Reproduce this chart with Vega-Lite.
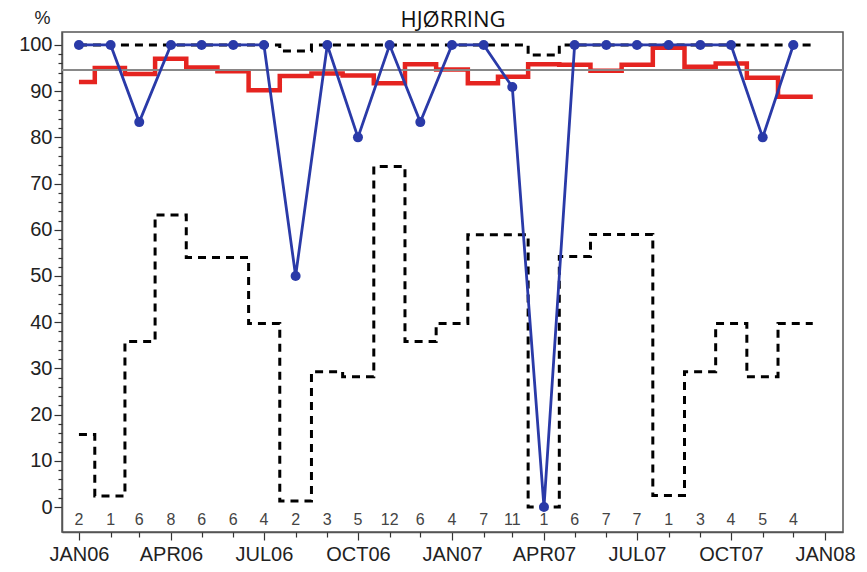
{
  "$schema": "https://vega.github.io/schema/vega-lite/v6.json",
  "width": 781,
  "height": 500,
  "autosize": "none",
  "padding": {"left": 62, "top": 32, "right": 24, "bottom": 40},
  "background": "white",
  "config": {"view": {"stroke": "#555", "strokeWidth": 1.5}},
  "resolve": {"axis": {"x": "independent", "y": "independent"}},
  "data": {"values": [
    {"date": "2006-01-01", "p": 100, "avg": 92, "lcl": 15.7, "ucl": 100, "n": 2},
    {"date": "2006-02-01", "p": 100, "avg": 95, "lcl": 2.4, "ucl": 100, "n": 1},
    {"date": "2006-03-01", "p": 83.3, "avg": 93.7, "lcl": 35.8, "ucl": 100, "n": 6},
    {"date": "2006-04-01", "p": 100, "avg": 97, "lcl": 63.2, "ucl": 100, "n": 8},
    {"date": "2006-05-01", "p": 100, "avg": 95.1, "lcl": 54, "ucl": 100, "n": 6},
    {"date": "2006-06-01", "p": 100, "avg": 94.3, "lcl": 54, "ucl": 100, "n": 6},
    {"date": "2006-07-01", "p": 100, "avg": 90.2, "lcl": 39.7, "ucl": 100, "n": 4},
    {"date": "2006-08-01", "p": 50, "avg": 93.3, "lcl": 1.3, "ucl": 98.7, "n": 2},
    {"date": "2006-09-01", "p": 100, "avg": 93.8, "lcl": 29.3, "ucl": 100, "n": 3},
    {"date": "2006-10-01", "p": 80, "avg": 93.4, "lcl": 28.2, "ucl": 100, "n": 5},
    {"date": "2006-11-01", "p": 100, "avg": 91.7, "lcl": 73.7, "ucl": 100, "n": 12},
    {"date": "2006-12-01", "p": 83.3, "avg": 95.8, "lcl": 35.8, "ucl": 100, "n": 6},
    {"date": "2007-01-01", "p": 100, "avg": 94.7, "lcl": 39.7, "ucl": 100, "n": 4},
    {"date": "2007-02-01", "p": 100, "avg": 91.7, "lcl": 58.9, "ucl": 100, "n": 7},
    {"date": "2007-03-01", "p": 90.9, "avg": 93.1, "lcl": 58.9, "ucl": 100, "n": 11},
    {"date": "2007-04-01", "p": 0, "avg": 95.8, "lcl": 0, "ucl": 97.8, "n": 1},
    {"date": "2007-05-01", "p": 100, "avg": 95.7, "lcl": 54.2, "ucl": 100, "n": 6},
    {"date": "2007-06-01", "p": 100, "avg": 94.4, "lcl": 59, "ucl": 100, "n": 7},
    {"date": "2007-07-01", "p": 100, "avg": 95.7, "lcl": 59, "ucl": 100, "n": 7},
    {"date": "2007-08-01", "p": 100, "avg": 99.4, "lcl": 2.5, "ucl": 100, "n": 1},
    {"date": "2007-09-01", "p": 100, "avg": 95.3, "lcl": 29.3, "ucl": 100, "n": 3},
    {"date": "2007-10-01", "p": 100, "avg": 96, "lcl": 39.7, "ucl": 100, "n": 4},
    {"date": "2007-11-01", "p": 80, "avg": 92.9, "lcl": 28.2, "ucl": 100, "n": 5},
    {"date": "2007-12-01", "p": 100, "avg": 88.8, "lcl": 39.7, "ucl": 100, "n": 4},
    {"date": "2007-12-20", "p": null, "avg": 88.8, "lcl": 39.7, "ucl": 100, "n": null}
  ]},
  "layer": [
    {
      "mark": {"type": "line", "interpolate": "step", "color": "black", "strokeWidth": 3, "strokeDash": [8, 6]},
      "encoding": {
        "x": {"field": "date", "type": "temporal",
          "scale": {"type": "utc", "domain": [{"year": 2005, "month": 12, "date": 15, "hours": 10, "utc": true}, {"year": 2008, "month": 1, "date": 18, "hours": 14, "utc": true}]},
          "axis": {
            "orient": "bottom", "title": null, "grid": false,
            "values": [
              {"year": 2006, "month": 1, "date": 1, "utc": true}, {"year": 2006, "month": 4, "date": 1, "utc": true},
              {"year": 2006, "month": 7, "date": 1, "utc": true}, {"year": 2006, "month": 10, "date": 1, "utc": true},
              {"year": 2007, "month": 1, "date": 1, "utc": true}, {"year": 2007, "month": 4, "date": 1, "utc": true},
              {"year": 2007, "month": 7, "date": 1, "utc": true}, {"year": 2007, "month": 10, "date": 1, "utc": true},
              {"year": 2008, "month": 1, "date": 1, "utc": true}
            ],
            "labelExpr": "upper(utcFormat(datum.value, '%b%y'))",
            "tickSize": 8,
            "labelFont": "Liberation Sans", "labelFontSize": 20, "labelColor": "#222", "labelPadding": 4,
            "labelOverlap": false, "labelFlush": false,
            "tickColor": "#333", "tickWidth": 1.2, "domainColor": "#555", "domainWidth": 1.5
          }
        },
        "y": {"field": "lcl", "type": "quantitative",
          "scale": {"domain": [-5.4, 102.8], "nice": false, "zero": false},
          "axis": {
            "orient": "left",
            "title": "%", "titleAngle": 0, "titleX": -20, "titleY": -14, "titleAlign": "center", "titleBaseline": "middle",
            "titleFont": "Liberation Sans", "titleFontSize": 18, "titleFontWeight": "normal", "titleColor": "#222",
            "grid": false,
            "values": [0,10,20,30,40,50,60,70,80,90,100],
            "tickSize": 8,
            "labelFont": "Liberation Sans", "labelFontSize": 20, "labelColor": "#222", "labelPadding": 2,
            "labelOverlap": false, "labelFlush": false,
            "tickColor": "#333", "tickWidth": 1.2, "domainColor": "#555", "domainWidth": 1.5
          }
        }
      }
    },
    {
      "mark": {"type": "line", "interpolate": "step", "color": "black", "strokeWidth": 3, "strokeDash": [8, 6]},
      "encoding": {
        "x": {"field": "date", "type": "temporal",
          "axis": {
            "orient": "bottom", "title": null, "grid": false, "labels": false, "domain": false,
            "values": [
              {"year": 2006, "month": 2, "date": 1, "utc": true}, {"year": 2006, "month": 3, "date": 1, "utc": true},
              {"year": 2006, "month": 5, "date": 1, "utc": true}, {"year": 2006, "month": 6, "date": 1, "utc": true},
              {"year": 2006, "month": 8, "date": 1, "utc": true}, {"year": 2006, "month": 9, "date": 1, "utc": true},
              {"year": 2006, "month": 11, "date": 1, "utc": true}, {"year": 2006, "month": 12, "date": 1, "utc": true},
              {"year": 2007, "month": 2, "date": 1, "utc": true}, {"year": 2007, "month": 3, "date": 1, "utc": true},
              {"year": 2007, "month": 5, "date": 1, "utc": true}, {"year": 2007, "month": 6, "date": 1, "utc": true},
              {"year": 2007, "month": 8, "date": 1, "utc": true}, {"year": 2007, "month": 9, "date": 1, "utc": true},
              {"year": 2007, "month": 11, "date": 1, "utc": true}, {"year": 2007, "month": 12, "date": 1, "utc": true}
            ],
            "tickSize": 5, "tickColor": "#333", "tickWidth": 1.2
          }
        },
        "y": {"field": "ucl", "type": "quantitative",
          "axis": {
            "orient": "left", "title": null, "grid": false, "labels": false, "domain": false,
            "values": [2,4,6,8,12,14,16,18,22,24,26,28,32,34,36,38,42,44,46,48,52,54,56,58,62,64,66,68,72,74,76,78,82,84,86,88,92,94,96,98],
            "tickSize": 4, "tickColor": "#333", "tickWidth": 1.2
          }
        }
      }
    },
    {
      "mark": {"type": "line", "interpolate": "step", "color": "#e52420", "strokeWidth": 4.5},
      "encoding": {
        "x": {"field": "date", "type": "temporal",
          "axis": {
            "orient": "top", "labels": false, "ticks": false, "domain": false, "grid": false, "values": [],
            "title": "HJØRRING", "titleFont": "Open Sans", "titleFontSize": 22, "titleFontWeight": "normal", "titleColor": "#111",
            "titleAnchor": "middle", "titleBaseline": "alphabetic", "titleY": -6
          }
        },
        "y": {"field": "avg", "type": "quantitative", "axis": null}
      }
    },
    {
      "mark": {"type": "rule", "color": "#888", "strokeWidth": 1},
      "encoding": {
        "y": {"datum": 94.5, "type": "quantitative", "axis": null}
      }
    },
    {
      "transform": [{"filter": "datum.p != null"}],
      "mark": {"type": "line", "color": "#2a3aa8", "strokeWidth": 2.8, "point": {"filled": true, "size": 100, "color": "#2a3aa8", "opacity": 1}},
      "encoding": {
        "x": {"field": "date", "type": "temporal", "axis": null},
        "y": {"field": "p", "type": "quantitative", "axis": null}
      }
    },
    {
      "transform": [{"filter": "datum.n != null"}],
      "mark": {"type": "text", "font": "Liberation Sans", "fontSize": 16, "color": "#444", "baseline": "middle", "align": "center"},
      "encoding": {
        "x": {"field": "date", "type": "temporal", "axis": null},
        "y": {"datum": -2.8, "type": "quantitative", "axis": null},
        "text": {"field": "n", "type": "quantitative"}
      }
    }
  ]
}
